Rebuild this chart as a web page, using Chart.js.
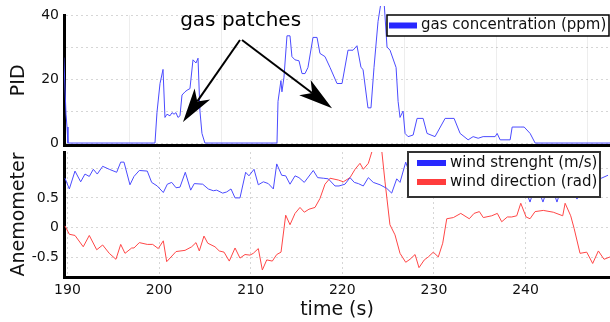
<!DOCTYPE html>
<html>
<head>
<meta charset="utf-8">
<title>gas patches</title>
<script src="https://cdn.jsdelivr.net/npm/chart.js"></script>
<style>
  body { margin: 0; background: #fff; }
  #wrap { position: relative; width: 610px; height: 322px; overflow: hidden; }
  canvas { position: absolute; left: 0; }
  #pid { top: 0; }
  #anemo { top: 137px; }
</style>
</head>
<body>
<div id="wrap">
  <canvas id="pid" width="610" height="160"></canvas>
  <canvas id="anemo" width="610" height="185"></canvas>
</div>
<script>
// PID trace (time in s, ppm)
const gasTime = [189.6, 189.84, 189.95, 190.05, 199.55, 199.77, 200.1, 200.43, 200.64, 200.86,
  201.19, 201.41, 201.63, 201.84, 202.06, 202.28, 202.5, 202.83, 203.05, 203.37,
  203.7, 204.03, 204.25, 204.46, 204.68, 205.0, 212.87, 212.98, 213.3, 213.41,
  213.63, 213.96, 214.29, 214.5, 214.83, 215.27, 215.6, 215.93, 216.25, 216.8,
  217.24, 217.56, 218.11, 218.66, 219.42, 219.97, 220.62, 221.17, 221.6, 222.04,
  222.26, 222.8, 223.13, 223.46, 223.9, 224.23, 224.56, 224.88, 225.21, 225.87,
  226.09, 226.3, 226.63, 226.85, 227.18, 227.73, 228.16, 228.82, 229.25, 230.12,
  231.22, 232.2, 232.86, 233.73, 234.28, 234.83, 235.37, 236.68, 236.9, 237.23,
  238.32, 238.54, 239.41, 239.85, 240.5, 241.05, 249.3];
const gasPpm = [26.7, 9, 5, 0, 0, 9.6, 18.6, 23, 8, 9,
  8.5, 9.5, 9, 9.5, 8, 8.5, 15, 16, 16.5, 17,
  26, 25, 26.5, 10, 3, 0, 0, 13, 19.5, 16,
  20.5, 33.5, 33.5, 27, 26, 25.7, 21.7, 21.7, 23.6, 33,
  33, 28, 27, 23.6, 18.6, 18.6, 29, 29, 30.4, 23.6,
  23, 11, 11, 23.6, 38, 44, 44, 30, 29, 23.6,
  13, 8, 10, 3, 2, 2.5, 7.7, 7.7, 3, 2,
  7.7, 7.7, 3, 1, 2, 1.5, 2, 2, 3, 1,
  1, 5, 5, 5, 3, 0, 0];

// anemometer: wind strength (m/s)
const windStrTime = [189.73, 190.2, 190.82, 191.44, 191.91, 192.38, 192.82, 193.25, 193.84, 194.56,
  195.37, 195.81, 196.17, 196.82, 197.26, 197.84, 198.71, 199.19, 199.8, 200.46,
  200.9, 201.38, 201.85, 202.28, 202.86, 203.45, 203.84, 204.76, 205.37, 205.92,
  206.29, 206.94, 207.38, 207.85, 208.29, 208.83, 209.45, 209.81, 210.36, 210.83,
  211.38, 211.92, 212.47, 212.84, 213.38, 213.82, 214.29, 214.84, 215.27, 215.85,
  216.83, 217.31, 217.93, 218.47, 219.2, 219.64, 220.29, 220.84, 221.31, 221.75,
  222.29, 222.84, 223.38, 224.12, 224.85, 225.39, 225.94, 226.3, 226.92, 227.28,
  227.94, 228.7, 229.57, 230.45, 231.32, 232.2, 233.07, 233.94, 234.81, 235.69,
  236.56, 237.43, 238.3, 239.18, 239.83, 240.49, 241.14, 241.9, 242.67, 243.43,
  244.2, 244.86, 245.62, 246.39, 247.26, 248.13, 249.0];
const windStr = [0.83, 0.65, 0.95, 0.77, 0.90, 0.86, 0.98, 0.90, 1.03, 0.98,
  0.93, 1.10, 1.10, 0.72, 0.86, 0.96, 0.95, 0.76, 0.70, 0.59,
  0.73, 0.76, 0.67, 0.68, 0.93, 0.63, 0.74, 0.73, 0.65, 0.62,
  0.63, 0.58, 0.60, 0.65, 0.50, 0.50, 0.93, 0.87, 0.98, 0.72,
  0.77, 0.74, 0.65, 1.07, 0.88, 0.87, 0.73, 0.87, 0.84, 0.76,
  0.96, 0.84, 0.83, 0.82, 0.70, 0.70, 0.73, 0.84, 0.76, 0.74,
  0.70, 0.84, 0.76, 0.72, 0.66, 0.58, 0.82, 0.76, 1.10, 0.94,
  0.85, 0.95, 0.80, 0.90, 0.78, 0.88, 0.75, 0.85, 0.80, 0.92,
  0.78, 0.86, 0.74, 0.84, 0.70, 0.43, 0.75, 0.43, 0.78, 0.43,
  0.80, 0.72, 0.48, 0.80, 0.90, 0.82, 0.88];

// anemometer: wind direction (rad)
const windDirTime = [189.73, 190.2, 190.82, 191.72, 192.38, 193.19, 193.84, 194.56, 195.29, 195.81,
  196.28, 197.01, 197.26, 197.84, 198.71, 199.3, 199.91, 200.46, 200.83, 201.85,
  202.83, 203.56, 204.03, 204.39, 204.9, 205.31, 206.1, 206.57, 207.09, 207.66,
  208.29, 208.83, 209.38, 209.92, 210.28, 210.83, 211.27, 211.75, 212.36, 212.84,
  213.31, 213.82, 214.29, 214.84, 215.38, 215.85, 216.36, 217.02, 217.56, 218.11,
  218.66, 219.56, 220.11, 220.84, 221.39, 221.93, 222.29, 222.84, 223.28, 224.3,
  224.66, 225.2, 225.75, 226.3, 226.92, 227.39, 227.94, 228.37, 228.95, 229.39,
  229.93, 230.48, 230.96, 231.4, 232.12, 232.93, 233.86, 234.38, 234.96, 235.39,
  236.31, 236.92, 237.4, 238.01, 238.49, 239.04, 239.48, 240.06, 240.49, 241.04,
  241.94, 243.03, 244.06, 244.32, 244.93, 245.3, 245.95, 246.68, 247.33, 247.95,
  248.57, 249.23];
const windDir = [0.03, -0.11, -0.13, -0.32, -0.13, -0.37, -0.29, -0.43, -0.53, -0.28,
  -0.43, -0.34, -0.34, -0.25, -0.28, -0.28, -0.35, -0.22, -0.57, -0.40,
  -0.38, -0.32, -0.25, -0.39, -0.14, -0.26, -0.32, -0.39, -0.41, -0.56,
  -0.34, -0.51, -0.45, -0.46, -0.43, -0.35, -0.71, -0.54, -0.56, -0.45,
  -0.41, 0.21, 0.05, 0.24, 0.34, 0.26, 0.31, 0.34, 0.49, 0.73,
  0.83, 0.80, 0.77, 0.84, 0.98, 1.08, 0.98, 1.08, 1.3, 1.3,
  0.77, 0.05, -0.12, -0.43, -0.58, -0.53, -0.45, -0.67, -0.54, -0.49,
  -0.41, -0.49, -0.26, 0.15, 0.17, 0.24, 0.15, 0.24, 0.27, 0.17,
  0.20, 0.24, 0.10, 0.18, 0.18, 0.20, 0.41, 0.18, 0.15, 0.27,
  0.29, 0.26, 0.20, 0.41, 0.20, -0.01, -0.43, -0.41, -0.60, -0.39,
  -0.53, -0.49];

const timeTicks = [190, 200, 210, 220, 230, 240];
const pidGridTimes = [196.8, 206.8, 216.8, 226.8, 236.8, 246.8];
const pidTicks = [0, 10, 20, 30, 40];
const pidLabels = { 0: '0', 20: '20', 40: '40' };
const windTicks = [-0.5, 0, 0.5, 1];
const windLabels = { '-0.5': '-0.5', '0': '0', '0.5': '0.5' };

// annotation: text anchor and arrow tails/tips in data units
const noteText = 'gas patches';
const noteAt = [208.9, 38.1];
const arrows = [
  [[208.83, 32.2], [202.61, 6.6]],
  [[209.05, 32.2], [218.88, 10.9]]
];

const FONT = 'DejaVu Sans';
Chart.defaults.font.family = FONT;
Chart.defaults.color = '#111';

const pts = (xs, ys) => xs.map((x, i) => ({ x: x, y: ys[i] }));

// legend box drawn inside the plot area
const boxLegend = {
  id: 'boxLegend',
  afterDatasetsDraw(chart, args, o) {
    const ctx = chart.ctx;
    ctx.save();
    ctx.fillStyle = '#fff';
    ctx.fillRect(o.x, o.y, o.w, o.h);
    ctx.lineWidth = o.lw;
    ctx.strokeStyle = o.stroke;
    ctx.strokeRect(o.x, o.y, o.w, o.h);
    ctx.font = '15px ' + FONT;
    ctx.textBaseline = 'middle';
    chart.data.datasets.forEach((ds, i) => {
      const cy = o.rows[i];
      ctx.fillStyle = ds.legendColor;
      ctx.fillRect(o.sx0, cy - 3, o.sx1 - o.sx0, 6);
      ctx.fillStyle = '#111';
      ctx.fillText(ds.label, o.tx, cy);
    });
    ctx.restore();
  }
};

function drawArrow(ctx, x0, y0, x1, y1) {
  const a = Math.atan2(y1 - y0, x1 - x0);
  const c = Math.cos(a), s = Math.sin(a);
  const len = 34, half = 9.5, notch = 9;
  ctx.beginPath();
  ctx.moveTo(x0, y0);
  ctx.lineTo(x1 - c * (len - notch), y1 - s * (len - notch));
  ctx.stroke();
  const hx = x1 - c * len, hy = y1 - s * len;
  ctx.beginPath();
  ctx.moveTo(x1, y1);
  ctx.lineTo(hx - s * half, hy + c * half);
  ctx.lineTo(x1 - c * (len - notch), y1 - s * (len - notch));
  ctx.lineTo(hx + s * half, hy - c * half);
  ctx.closePath();
  ctx.fill();
}

const gasNote = {
  id: 'gasNote',
  afterDatasetsDraw(chart) {
    const { ctx, scales: { x, y } } = chart;
    ctx.save();
    ctx.fillStyle = '#000';
    ctx.strokeStyle = '#000';
    ctx.lineWidth = 2;
    ctx.font = '20px ' + FONT;
    ctx.textAlign = 'center';
    ctx.textBaseline = 'middle';
    ctx.fillText(noteText, x.getPixelForValue(noteAt[0]), y.getPixelForValue(noteAt[1]));
    arrows.forEach(([from, to]) => {
      drawArrow(ctx, x.getPixelForValue(from[0]), y.getPixelForValue(from[1]),
        x.getPixelForValue(to[0]), y.getPixelForValue(to[1]));
    });
    ctx.restore();
  }
};

const xMin = 189.62, xMax = 249.22;
const tickFont = { size: 14, family: FONT };
const titleFont = { size: 19, family: FONT, weight: 'normal' };

new Chart(document.getElementById('pid'), {
  type: 'line',
  data: {
    datasets: [{
      label: 'gas concentration (ppm)',
      data: pts(gasTime, gasPpm),
      borderColor: 'rgb(75,75,255)',
      legendColor: 'rgb(40,40,255)',
      borderWidth: 1,
      pointRadius: 0,
      tension: 0,
      clip: { left: 0, top: 9, right: 0, bottom: 2 }
    }]
  },
  options: {
    responsive: false,
    animation: false,
    devicePixelRatio: 1,
    layout: { padding: { top: 15, right: 0, bottom: 14.4, left: 0 } },
    plugins: {
      legend: { display: false },
      tooltip: { enabled: false },
      boxLegend: { x: 387, y: 15, w: 222, h: 21, lw: 1.5, stroke: '#000',
        sx0: 389, sx1: 417, tx: 421, rows: [25.5] }
    },
    scales: {
      x: {
        type: 'linear', min: xMin, max: xMax,
        afterBuildTicks: s => { s.ticks = pidGridTimes.map(v => ({ value: v })); },
        afterFit: s => { s.height = 0; },
        ticks: { display: false },
        grid: { color: 'rgba(0,0,0,0.07)', drawTicks: false },
        border: { color: '#000', width: 3 }
      },
      y: {
        min: -0.8, max: 40,
        afterBuildTicks: s => { s.ticks = pidTicks.map(v => ({ value: v })); },
        afterFit: s => { s.width = 64; },
        ticks: { font: tickFont, padding: 5, color: '#111',
          callback: v => (v in pidLabels ? pidLabels[v] : '') },
        grid: { color: 'rgba(0,0,0,0.16)', drawTicks: false },
        border: { color: '#000', width: 3, dash: [2, 3] },
        title: { display: true, text: 'PID', font: titleFont, color: '#111',
          padding: { top: 8, bottom: 0 } }
      }
    }
  },
  plugins: [gasNote, boxLegend]
});

new Chart(document.getElementById('anemo'), {
  type: 'line',
  data: {
    datasets: [{
      label: 'wind strenght (m/s)',
      data: pts(windStrTime, windStr),
      borderColor: 'rgb(75,75,255)',
      legendColor: 'rgb(40,40,255)',
      borderWidth: 1,
      pointRadius: 0,
      tension: 0
    }, {
      label: 'wind direction (rad)',
      data: pts(windDirTime, windDir),
      borderColor: 'rgb(255,70,70)',
      legendColor: 'rgb(255,60,60)',
      borderWidth: 1,
      pointRadius: 0,
      tension: 0
    }]
  },
  options: {
    responsive: false,
    animation: false,
    devicePixelRatio: 1,
    layout: { padding: { top: 15, right: 0, bottom: 0, left: 0 } },
    plugins: {
      legend: { display: false },
      tooltip: { enabled: false },
      boxLegend: { x: 408, y: 15, w: 192, h: 45, lw: 2, stroke: '#333',
        sx0: 417, sx1: 446, tx: 450, rows: [26, 45] }
    },
    scales: {
      x: {
        type: 'linear', min: xMin, max: xMax,
        afterBuildTicks: s => { s.ticks = timeTicks.map(v => ({ value: v })); },
        afterFit: s => { s.height = 45; },
        ticks: { font: tickFont, padding: 5, color: '#111' },
        grid: { color: 'rgba(0,0,0,0.16)', drawTicks: false },
        border: { color: '#000', width: 3, dash: [2, 3] },
        title: { display: true, text: 'time (s)', font: titleFont, color: '#111',
          padding: { top: 0, bottom: 1 } }
      },
      y: {
        min: -0.827, max: 1.27,
        afterBuildTicks: s => { s.ticks = windTicks.map(v => ({ value: v })); },
        afterFit: s => { s.width = 64; },
        ticks: { font: tickFont, padding: 5, color: '#111',
          callback: v => (String(v) in windLabels ? windLabels[String(v)] : '') },
        grid: { color: 'rgba(0,0,0,0.16)', drawTicks: false },
        border: { color: '#000', width: 3, dash: [2, 3] },
        title: { display: true, text: 'Anemometer', font: titleFont, color: '#111',
          padding: { top: 8, bottom: 0 } }
      }
    }
  },
  plugins: [boxLegend]
});
</script>
</body>
</html>
